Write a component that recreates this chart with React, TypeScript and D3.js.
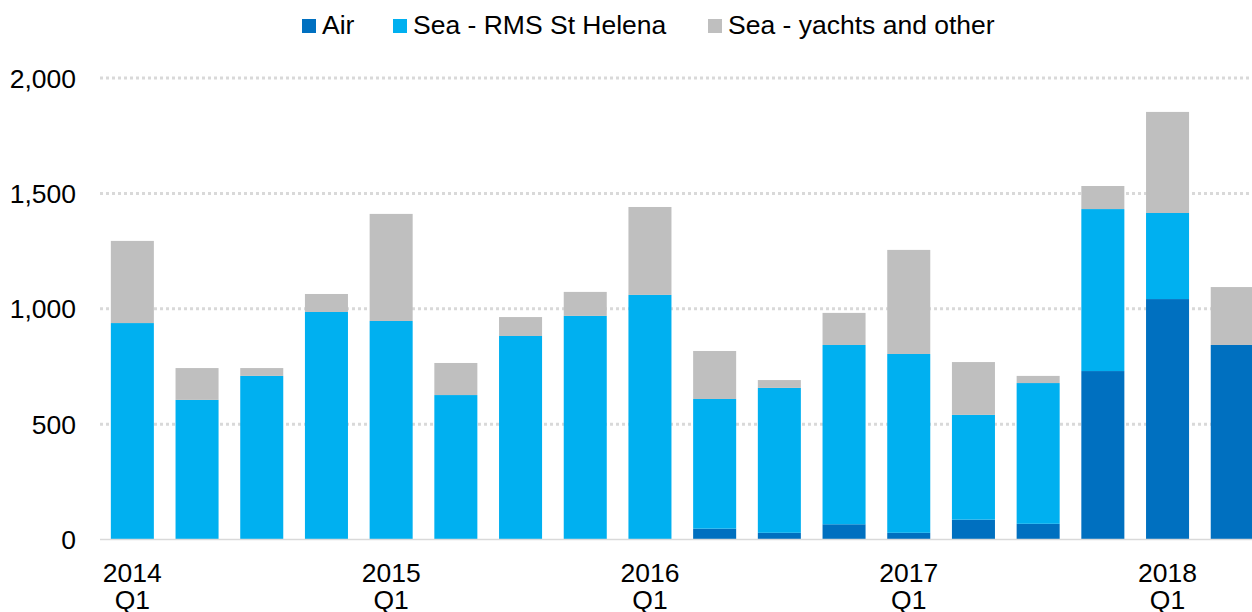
import React, { useEffect, useRef } from "react";
import * as d3 from "d3";

// quarterly arrivals, 2014 Q1 .. 2018 Q2
const quarters = [
  "2014 Q1", "2014 Q2", "2014 Q3", "2014 Q4",
  "2015 Q1", "2015 Q2", "2015 Q3", "2015 Q4",
  "2016 Q1", "2016 Q2", "2016 Q3", "2016 Q4",
  "2017 Q1", "2017 Q2", "2017 Q3", "2017 Q4",
  "2018 Q1", "2018 Q2",
];
const air = [0, 0, 0, 0, 0, 0, 0, 0, 0, 47, 29, 66, 29, 86, 68, 730, 1042, 843];
const seaRms = [938, 605, 709, 986, 947, 626, 882, 969, 1060, 562, 628, 777, 775, 454, 610, 702, 373, 0];
const seaYachts = [356, 138, 34, 78, 464, 139, 82, 104, 381, 208, 34, 139, 451, 229, 31, 100, 438, 251];
const seriesNames = ["Air", "Sea - RMS St Helena", "Sea - yachts and other"];
const seriesColors = ["#0070C0", "#00B0F0", "#BFBFBF"];
const yTicks = [0, 500, 1000, 1500, 2000];

const W = 1252;
const H = 612;
const FONT = "'Liberation Sans', Arial, sans-serif";
const FS = "26.5px";

export default function App() {
  const ref = useRef<SVGSVGElement>(null);

  useEffect(() => {
    const svg = d3.select(ref.current);
    svg.selectAll("*").remove();

    const rows = quarters.map((q, i) => ({ q, a: air[i], s: seaRms[i], y: seaYachts[i] }));
    const keys = ["a", "s", "y"];
    const stacked = d3.stack<any>().keys(keys)(rows);

    const x = d3.scaleBand().domain(quarters).range([100, 1264.6]).paddingInner(0.335).paddingOuter(0.1675);
    const y = d3.scaleLinear().domain([0, 2000]).range([539.5, 78]);

    // gridlines
    svg.append("g")
      .selectAll("line")
      .data(yTicks.filter(t => t > 0))
      .enter()
      .append("line")
      .attr("x1", 100)
      .attr("x2", W)
      .attr("y1", d => y(d))
      .attr("y2", d => y(d))
      .attr("stroke", "#d9d9d9")
      .attr("stroke-width", 3)
      .attr("stroke-dasharray", "3,3");

    // y tick labels
    svg.append("g")
      .selectAll("text")
      .data(yTicks)
      .enter()
      .append("text")
      .attr("x", 76)
      .attr("y", d => y(d) + 9.5)
      .attr("text-anchor", "end")
      .style("font-family", FONT)
      .style("font-size", FS)
      .attr("fill", "#000")
      .text(d => d3.format(",")(d));

    // bars
    const layers = svg.append("g")
      .selectAll("g")
      .data(stacked)
      .enter()
      .append("g")
      .attr("fill", (d, i) => seriesColors[i]);
    layers.selectAll("rect")
      .data(d => d.filter(p => p[1] - p[0] > 0))
      .enter()
      .append("rect")
      .attr("x", (d: any) => x(d.data.q)!)
      .attr("width", x.bandwidth())
      .attr("y", d => y(d[1]))
      .attr("height", d => y(d[0]) - y(d[1]));

    // baseline
    svg.append("line")
      .attr("x1", 100)
      .attr("x2", W)
      .attr("y1", 539.5)
      .attr("y2", 539.5)
      .attr("stroke", "#d9d9d9")
      .attr("stroke-width", 1.5);

    // x labels, only Q1 is labelled
    const xl = svg.append("g")
      .selectAll("text")
      .data(quarters.filter(q => q.endsWith("Q1")))
      .enter()
      .append("text")
      .attr("text-anchor", "middle")
      .style("font-family", FONT)
      .style("font-size", FS)
      .attr("fill", "#000");
    xl.append("tspan")
      .attr("x", d => x(d)! + x.bandwidth() / 2)
      .attr("y", 582)
      .text(d => d.split(" ")[0]);
    xl.append("tspan")
      .attr("x", d => x(d)! + x.bandwidth() / 2)
      .attr("y", 609)
      .text(d => d.split(" ")[1]);

    // legend
    const legendX = [302, 393, 708];
    const lg = svg.append("g")
      .selectAll("g")
      .data(seriesNames)
      .enter()
      .append("g")
      .attr("transform", (d, i) => `translate(${legendX[i]},19)`);
    lg.append("rect")
      .attr("width", 14)
      .attr("height", 14)
      .attr("fill", (d, i) => seriesColors[i]);
    lg.append("text")
      .attr("x", 20)
      .attr("y", 15)
      .style("font-family", FONT)
      .style("font-size", FS)
      .attr("fill", "#000")
      .text(d => d);
  }, []);

  return (
    <svg
      ref={ref}
      width={W}
      height={H}
      style={{ position: "absolute", left: 0, top: 0, background: "#fff" }}
    />
  );
}
